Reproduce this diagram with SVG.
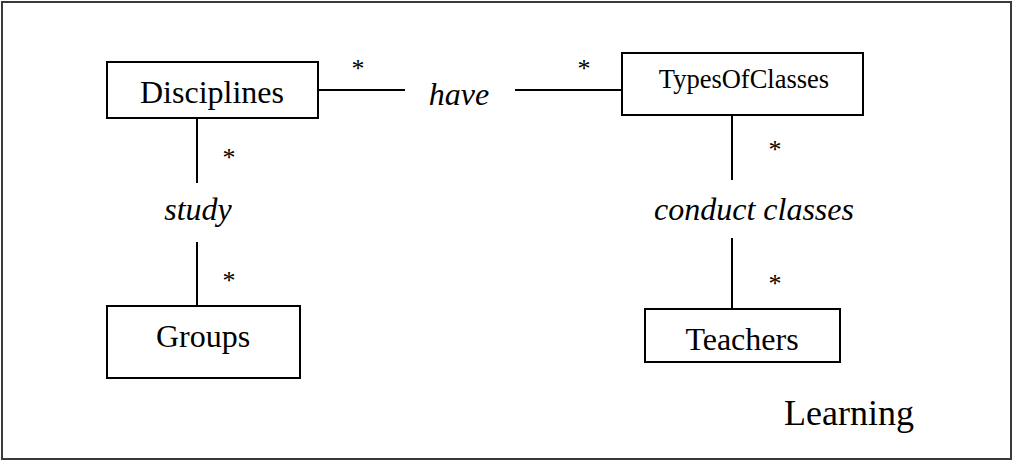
<svg xmlns="http://www.w3.org/2000/svg" width="1013" height="461" viewBox="0 0 1013 461">
  <style>
    .box { fill: #ffffff; stroke: #000000; stroke-width: 2; }
    .conn line { stroke: #000000; stroke-width: 2; }
    text { font-family: "Liberation Serif", "Times New Roman", serif; fill: #000000; text-anchor: middle; }
    .lbl { font-size: 32px; }
    .small { font-size: 26.5px; }
    .rel { font-size: 32px; font-style: italic; }
    .mult { font-size: 26px; }
    .title { font-size: 36px; }
  </style>
  <rect x="2" y="2" width="1009" height="457" fill="#ffffff" stroke="#3a3a3a" stroke-width="2"/>
  <g id="connectors" class="conn">
    <line x1="318" y1="90" x2="405" y2="90"/>
    <line x1="515" y1="90" x2="622" y2="90"/>
    <line x1="197" y1="118" x2="197" y2="183"/>
    <line x1="197" y1="242" x2="197" y2="306"/>
    <line x1="732" y1="115" x2="732" y2="180"/>
    <line x1="732" y1="238" x2="732" y2="309"/>
  </g>
  <g id="labels">
    <text class="rel" x="459" y="105">have</text>
    <text class="rel" x="198" y="220">study</text>
    <text class="rel" x="754" y="220">conduct classes</text>
    <text class="mult" x="358" y="77">*</text>
    <text class="mult" x="584" y="77">*</text>
    <text class="mult" x="229" y="166">*</text>
    <text class="mult" x="229" y="289">*</text>
    <text class="mult" x="775" y="158">*</text>
    <text class="mult" x="775" y="292">*</text>
  </g>
  <g id="Disciplines">
    <rect class="box" x="107" y="62" width="211" height="56"/>
    <text class="lbl" x="212" y="103">Disciplines</text>
  </g>
  <g id="TypesOfClasses">
    <rect class="box" x="622" y="53" width="241" height="62"/>
    <text class="small" x="744" y="88">TypesOfClasses</text>
  </g>
  <g id="Groups">
    <rect class="box" x="107" y="306" width="193" height="72"/>
    <text class="lbl" x="203" y="347">Groups</text>
  </g>
  <g id="Teachers">
    <rect class="box" x="645" y="309" width="195" height="53"/>
    <text class="lbl" x="742" y="350">Teachers</text>
  </g>
  <g id="Learning">
    <text class="title" x="849" y="425">Learning</text>
  </g>
</svg>
